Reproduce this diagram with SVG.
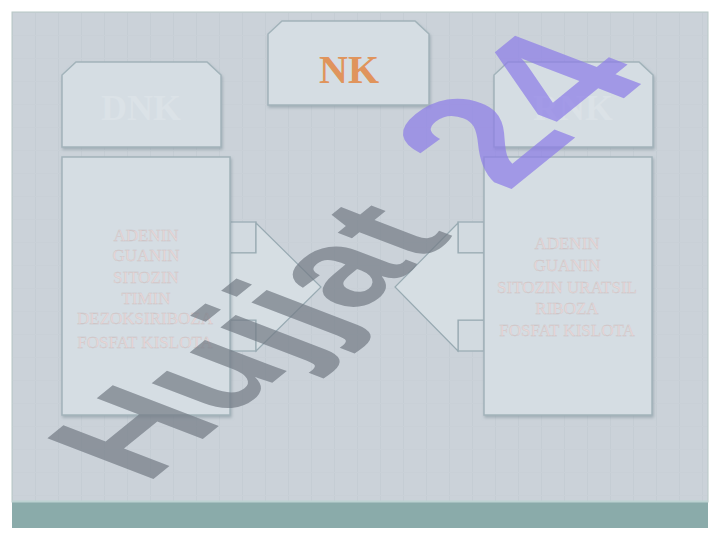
<svg xmlns="http://www.w3.org/2000/svg" width="720" height="540" viewBox="0 0 720 540">
  <defs>
    <pattern id="grid" x="12" y="12" width="23" height="23" patternUnits="userSpaceOnUse">
      <rect width="23" height="23" fill="#cbd2d9"/>
      <line x1="0.5" y1="0" x2="0.5" y2="23" stroke="#c5cdd4" stroke-width="1"/>
      <line x1="0" y1="0.5" x2="23" y2="0.5" stroke="#c9d0d7" stroke-width="1"/>
    </pattern>
    <filter id="sh" x="-10%" y="-10%" width="120%" height="120%">
      <feDropShadow dx="1" dy="2" stdDeviation="1.5" flood-color="#7e9099" flood-opacity="0.55"/>
    </filter>
  </defs>
  <style>
    .box { fill: #d5dde3; stroke: #a2b3ba; stroke-width: 1.5; filter: url(#sh); }
    .arrow { fill: #d6dee3; stroke: #98aab2; stroke-width: 1.2; }
    .notch { fill: #d2dae0; stroke: #a3b3ba; stroke-width: 1.5; }
    .title { font-family: "Liberation Serif", serif; font-weight: bold; text-anchor: middle; }
    .faint { fill: #dbe2e7; font-size: 36px; }
    .item { font-family: "Liberation Serif", serif; font-size: 17px; fill: #ead8d8; text-anchor: middle; stroke: #c9c2c4; stroke-width: 0.3; }
    .wm { font-family: "Liberation Sans", "DejaVu Sans", sans-serif; font-weight: bold; font-size: 143px; }
  </style>

  <!-- page and slide background -->
  <rect x="0" y="0" width="720" height="540" fill="#ffffff"/>
  <rect x="12" y="12" width="696" height="490" fill="url(#grid)" stroke="#b8c8c6" stroke-width="1"/>
  <rect x="12" y="502" width="696" height="26" fill="#8aabaa"/>
  <line x1="12" y1="501.5" x2="708" y2="501.5" stroke="#bcd2d1" stroke-width="2"/>

  <!-- connectors -->
  <g id="connectors">
    <rect class="notch" x="230" y="222" width="26" height="31"/>
    <rect class="notch" x="230" y="320" width="26" height="31"/>
    <polygon class="arrow" points="230,253 256,253 256,223 321,287 256,351 256,320 230,320"/>
    <rect class="notch" x="458" y="222" width="26" height="31"/>
    <rect class="notch" x="458" y="320" width="26" height="31"/>
    <polygon class="arrow" points="484,253 458,253 458,223 395,287 458,351 458,320 484,320"/>
  </g>

  <g id="node-dnk">
    <path class="box" d="M76,62 H207 L221,75 V147 H62 V75 Z"/>
    <text class="title faint" x="141" y="120">DNK</text>
  </g>

  <g id="node-nk">
    <path class="box" d="M282,21 H415 L429,34 V105 H268 V34 Z"/>
    <text class="title" x="349" y="83" font-size="40" fill="#e0945c">NK</text>
  </g>

  <g id="node-rnk">
    <path class="box" d="M508,62 H639 L653,75 V147 H494 V75 Z"/>
    <text class="title faint" x="573" y="120">RNK</text>
  </g>

  <g id="node-dnk-list">
    <rect class="box" x="62" y="157" width="168" height="258"/>
    <text class="item" x="146" y="241">ADENIN</text>
    <text class="item" x="146" y="261">GUANIN</text>
    <text class="item" x="146" y="283">SITOZIN</text>
    <text class="item" x="146" y="304">TIMIN</text>
    <text class="item" x="145" y="324">DEZOKSIRIBOZA</text>
    <text class="item" x="145" y="348">FOSFAT KISLOTA</text>
  </g>

  <g id="node-rnk-list">
    <rect class="box" x="484" y="157" width="168" height="258"/>
    <text class="item" x="567" y="249">ADENIN</text>
    <text class="item" x="567" y="271">GUANIN</text>
    <text class="item" x="567" y="293">SITOZIN URATSIL</text>
    <text class="item" x="567" y="314">RIBOZA</text>
    <text class="item" x="567" y="336">FOSFAT KISLOTA</text>
  </g>

  <!-- watermark -->
  <g id="watermark" opacity="0.7">
    <text class="wm" transform="translate(146,485) rotate(-39) skewX(30)"><tspan fill="#737b85">Hujjat</tspan><tspan fill="#8c7ce8" font-size="170" dx="20"> 24</tspan></text>
  </g>
</svg>
